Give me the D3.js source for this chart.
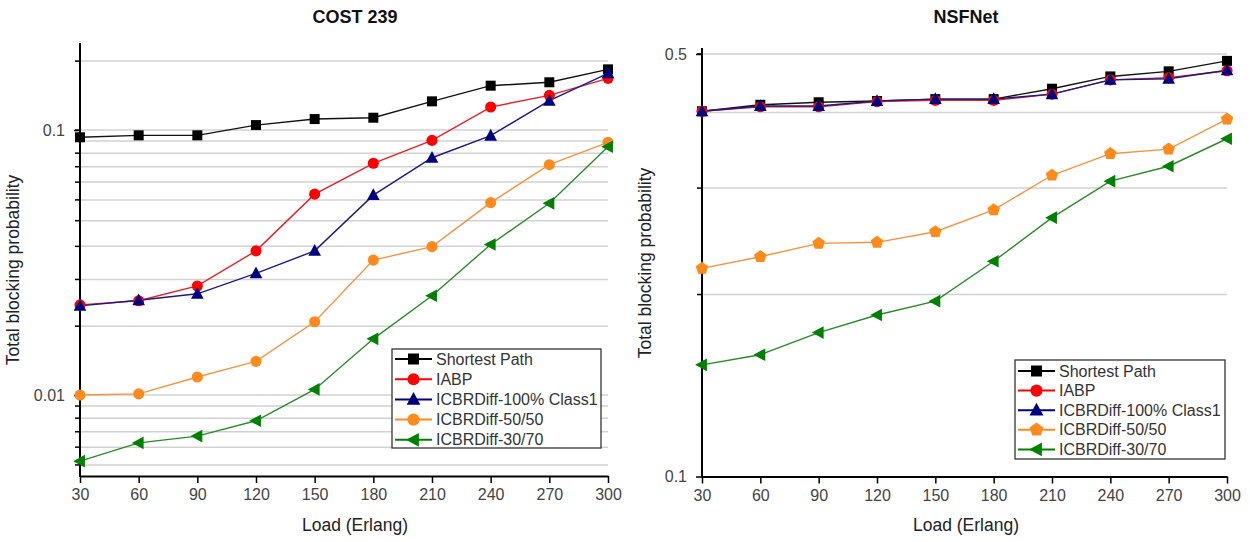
<!DOCTYPE html>
<html>
<head>
<meta charset="utf-8">
<script src="https://cdn.jsdelivr.net/npm/d3@7/dist/d3.min.js"></script>
<style>
  html, body { margin: 0; padding: 0; background: #fff; }
  svg { display: block; font-family: "Liberation Sans", Arial, sans-serif; }
</style>
</head>
<body>
<svg id="chart" width="1250" height="542"></svg>
<script>
// ---- Data ----
const loads = [30, 60, 90, 120, 150, 180, 210, 240, 270, 300];
const xTickLabels = ["30", "60", "90", "120", "150", "180", "210", "240", "270", "300"];
const seriesNames = ["Shortest Path", "IABP", "ICBRDiff-100% Class1", "ICBRDiff-50/50", "ICBRDiff-30/70"];

// COST 239
const costShortest = [0.0939, 0.0955, 0.0955, 0.1044, 0.110, 0.1113, 0.1283, 0.147, 0.1514, 0.1694];
const costIABP     = [0.0219, 0.0227, 0.0258, 0.035, 0.0573, 0.0749, 0.0914, 0.1221, 0.1352, 0.1567];
const costClass1   = [0.0217, 0.0228, 0.0241, 0.0288, 0.035, 0.0568, 0.0786, 0.0952, 0.129, 0.1637];
const cost5050     = [0.0100, 0.0101, 0.0117, 0.0134, 0.0189, 0.0323, 0.0363, 0.0532, 0.074, 0.0899];
const cost3070     = [0.00563, 0.0066, 0.0070, 0.0080, 0.0105, 0.0163, 0.0237, 0.0370, 0.0529, 0.0865];
const costYTicks   = [0.1, 0.01];
const costYTickLabels = ["0.1", "0.01"];
const costGrid = [0.182, 0.1, 0.0909, 0.0818, 0.0727, 0.0636, 0.0545, 0.0455, 0.0364, 0.0273, 0.0182,
                  0.01, 0.00909, 0.00818, 0.00727, 0.00636, 0.00545];
const costYDomain = [0.00495, 0.213];

// NSFNet
const nsfShortest = [0.402, 0.412, 0.416, 0.418, 0.421, 0.421, 0.438, 0.459, 0.468, 0.487];
const nsfIABP     = [0.402, 0.409, 0.409, 0.417, 0.419, 0.419, 0.429, 0.453, 0.457, 0.469];
const nsfClass1   = [0.402, 0.410, 0.410, 0.418, 0.421, 0.421, 0.429, 0.453, 0.455, 0.470];
const nsf5050     = [0.221, 0.231, 0.243, 0.244, 0.254, 0.276, 0.315, 0.342, 0.348, 0.390];
const nsf3070     = [0.153, 0.159, 0.173, 0.185, 0.195, 0.227, 0.268, 0.308, 0.326, 0.362];
const nsfYTicks   = [0.5, 0.1];
const nsfYTickLabels = ["0.5", "0.1"];
const nsfGrid = [0.5, 0.4, 0.3, 0.2];
const nsfYDomain = [0.1, 0.5115];

// ---- Styles ----
const colors = ["#000000", "#ff0000", "#000080", "#ff8a1c", "#008000"];
const lineColors = ["#111111", "#e8202a", "#1a1a80", "#f59440", "#2a8a2a"];

const svg = d3.select("#chart");

function markerPath(kind, size) {
  const s = size;
  switch (kind) {
    case "square": return `M${-s/2},${-s/2}h${s}v${s}h${-s}Z`;
    case "circle": return d3.symbol(d3.symbolCircle, s * s * 0.8)();
    case "triangle": {
      const h = s * 1.0, w = s * 1.15;
      return `M0,${-h*0.62}L${w/2},${h*0.45}L${-w/2},${h*0.45}Z`;
    }
    case "pentagon": {
      const r = s * 0.6; let p = "";
      for (let i = 0; i < 5; i++) {
        const a = -Math.PI / 2 + i * 2 * Math.PI / 5;
        p += (i ? "L" : "M") + (r * Math.cos(a)).toFixed(2) + "," + (r * Math.sin(a)).toFixed(2);
      }
      return p + "Z";
    }
    case "left": {
      const h = s * 1.15, w = s * 1.0;
      return `M${-w*0.62},0L${w*0.45},${-h/2}L${w*0.45},${h/2}Z`;
    }
  }
}

function drawChart(cfg) {
  const g = svg.append("g");
  const x = d3.scaleLinear().domain([30, 300]).range([cfg.x0, cfg.x1]);
  const y = d3.scaleLog().domain(cfg.yDomain).range([cfg.yBottom, cfg.yTop]);

  // gridlines
  g.selectAll("line.grid").data(cfg.grid).enter().append("line")
    .attr("x1", cfg.x0).attr("x2", cfg.x1)
    .attr("y1", d => y(d)).attr("y2", d => y(d))
    .attr("stroke", "#d2d2d2").attr("stroke-width", 1.5);

  // minor ticks at gridlines
  g.selectAll("line.minor").data(cfg.grid).enter().append("line")
    .attr("x1", cfg.x0 - 5).attr("x2", cfg.x0)
    .attr("y1", d => y(d)).attr("y2", d => y(d))
    .attr("stroke", "#000").attr("stroke-width", 1.5);

  // y axis
  const yAxis = d3.axisLeft(y).tickValues(cfg.yTicks)
    .tickFormat((d, i) => cfg.yTickLabels[i]).tickSize(6).tickPadding(9);
  const ya = g.append("g").attr("transform", `translate(${cfg.x0},0)`).call(yAxis);
  ya.select(".domain").remove();
  ya.selectAll(".tick line").attr("stroke", "#000").attr("stroke-width", 1.5);
  ya.selectAll(".tick text").attr("font-size", 16).attr("fill", "#444")
    .attr("font-family", "'Liberation Sans', Arial, sans-serif");
  g.append("line").attr("x1", cfg.x0).attr("x2", cfg.x0)
    .attr("y1", cfg.yTop).attr("y2", cfg.yBottom + 1)
    .attr("stroke", "#000").attr("stroke-width", 2);

  // x axis
  const xAxis = d3.axisBottom(x).tickValues(loads)
    .tickFormat((d, i) => xTickLabels[i]).tickSize(7).tickPadding(6).tickSizeOuter(0);
  const xa = g.append("g").attr("transform", `translate(0,${cfg.yBottom})`).call(xAxis);
  xa.select(".domain").attr("stroke", "#000").attr("stroke-width", 2);
  xa.selectAll(".tick line").attr("stroke", "#000").attr("stroke-width", 1.5);
  xa.selectAll(".tick text").attr("font-size", 16).attr("fill", "#444")
    .attr("font-family", "'Liberation Sans', Arial, sans-serif");

  // series lines + markers
  const line = d3.line().x((d, i) => x(loads[i])).y(d => y(d));
  cfg.series.forEach((s, k) => {
    g.append("path").attr("d", line(s)).attr("fill", "none")
      .attr("stroke", lineColors[k]).attr("stroke-width", 1.4);
  });
  cfg.series.forEach((s, k) => {
    g.selectAll(null).data(s).enter().append("path")
      .attr("d", markerPath(cfg.markers[k], cfg.markerSizes[k]))
      .attr("transform", (d, i) => `translate(${x(loads[i])},${y(d)})`)
      .attr("fill", colors[k]);
  });

  // titles
  svg.append("text").attr("x", cfg.titleX).attr("y", 23).attr("text-anchor", "middle")
    .attr("font-size", 18).attr("font-weight", "bold").attr("fill", "#111").text(cfg.title);
  svg.append("text").attr("x", cfg.titleX).attr("y", 531).attr("text-anchor", "middle")
    .attr("font-size", 17.5).attr("fill", "#222").text("Load (Erlang)");
  svg.append("text").attr("transform", `translate(${cfg.yLabelX},${cfg.yLabelY}) rotate(-90)`)
    .attr("text-anchor", "middle").attr("font-size", 17.5).attr("fill", "#222")
    .text("Total blocking probability");

  // legend
  const L = cfg.legend;
  const lg = svg.append("g");
  lg.append("rect").attr("x", L.x).attr("y", L.y).attr("width", L.w).attr("height", L.h)
    .attr("fill", "#fff").attr("stroke", "#333").attr("stroke-width", 1.3);
  seriesNames.forEach((name, k) => {
    const cy = L.y + L.first + k * L.step;
    lg.append("line").attr("x1", L.x + 3).attr("x2", L.x + 40).attr("y1", cy).attr("y2", cy)
      .attr("stroke", colors[k]).attr("stroke-width", 2);
    lg.append("path").attr("d", markerPath(cfg.markers[k], cfg.markerSizes[k] + 1))
      .attr("transform", `translate(${L.x + 21.5},${cy})`).attr("fill", colors[k]);
    lg.append("text").attr("x", L.x + 44).attr("y", cy + 5.5).attr("font-size", 16)
      .attr("fill", "#333").text(name);
  });
}

drawChart({
  title: "COST 239", titleX: 355,
  x0: 80, x1: 608, yTop: 43, yBottom: 476,
  yDomain: costYDomain, yTicks: costYTicks, yTickLabels: costYTickLabels, grid: costGrid,
  series: [costShortest, costIABP, costClass1, cost5050, cost3070],
  markers: ["square", "circle", "triangle", "circle", "left"],
  markerSizes: [10, 11, 11, 11, 11],
  yLabelX: 19, yLabelY: 270,
  legend: { x: 392, y: 349, w: 209, h: 99, first: 10, step: 20.2 }
});

drawChart({
  title: "NSFNet", titleX: 966,
  x0: 702, x1: 1227, yTop: 48, yBottom: 476.5,
  yDomain: nsfYDomain, yTicks: nsfYTicks, yTickLabels: nsfYTickLabels, grid: nsfGrid,
  series: [nsfShortest, nsfIABP, nsfClass1, nsf5050, nsf3070],
  markers: ["square", "circle", "triangle", "pentagon", "left"],
  markerSizes: [10, 11, 11, 11, 11],
  yLabelX: 651, yLabelY: 263,
  legend: { x: 1015, y: 360, w: 210, h: 99, first: 11, step: 19.6 }
});
</script>
</body>
</html>
